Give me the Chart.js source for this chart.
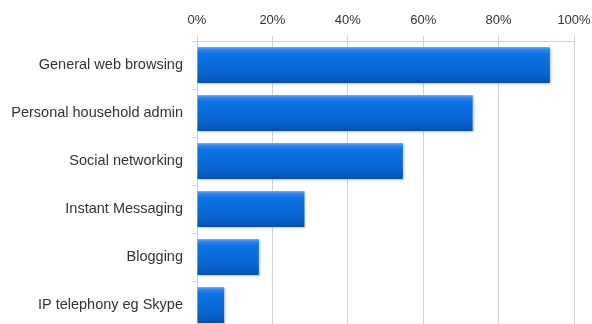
<!DOCTYPE html>
<html>
<head>
<meta charset="utf-8">
<script src="https://cdn.jsdelivr.net/npm/chart.js@4"></script>
<style>
  html, body { margin: 0; padding: 0; background: #fff; overflow: hidden; }
  canvas { display: block; }
</style>
</head>
<body>
<canvas id="grafico" width="592" height="329"></canvas>
<script>
// Actividades y porcentaje de uso
const actividades = [
  'General web browsing',
  'Personal household admin',
  'Social networking',
  'Instant Messaging',
  'Blogging',
  'IP telephony eg Skype'
];
const porcentajes = [93.6, 73.1, 54.6, 28.5, 16.4, 7.2];
const marcasEje = [0, 20, 40, 60, 80, 100];

const colorGrilla = '#d2d2d2';
const colorTexto = '#333333';

// Degradado vertical para cada barra
function degradadoBarra(context) {
  const chart = context.chart;
  const escalaY = chart.scales.y;
  if (!chart.chartArea || !escalaY) return '#0a68d8';
  const centro = escalaY.getPixelForValue(context.dataIndex);
  const banda = (escalaY.bottom - escalaY.top) / actividades.length;
  const alto = banda * 0.75;
  const g = chart.ctx.createLinearGradient(0, centro - alto / 2, 0, centro + alto / 2);
  g.addColorStop(0, '#6cb0f4');
  g.addColorStop(0.07, '#2a86ee');
  g.addColorStop(0.2, '#0c72e6');
  g.addColorStop(0.75, '#0864d0');
  g.addColorStop(1, '#044fa8');
  return g;
}

// Sombra suave debajo de las barras
const sombraBarras = {
  id: 'sombraBarras',
  beforeDatasetsDraw(chart) {
    const ctx = chart.ctx;
    ctx.save();
    ctx.shadowColor = 'rgba(0,0,0,0.25)';
    ctx.shadowBlur = 2;
    ctx.shadowOffsetX = 1;
    ctx.shadowOffsetY = 1;
  },
  afterDatasetsDraw(chart) {
    chart.ctx.restore();
  }
};

const ctx = document.getElementById('grafico').getContext('2d');
const grafico = new Chart(ctx, {
  type: 'bar',
  data: {
    labels: actividades,
    datasets: [{
      data: porcentajes,
      backgroundColor: degradadoBarra,
      borderWidth: 0,
      barPercentage: 0.75,
      categoryPercentage: 1
    }]
  },
  options: {
    indexAxis: 'y',
    responsive: false,
    animation: false,
    layout: { padding: { left: 0, right: 18, top: 0, bottom: 0 } },
    plugins: {
      legend: { display: false },
      tooltip: { enabled: false }
    },
    scales: {
      x: {
        position: 'top',
        min: 0,
        max: 100,
        afterBuildTicks: (scale) => {
          scale.ticks = marcasEje.map(v => ({ value: v }));
        },
        afterFit: (scale) => {
          scale.height = 41;
          scale.paddingLeft = 0;
          scale.paddingRight = 0;
        },
        grid: { color: colorGrilla, tickLength: 5, lineWidth: 1 },
        border: { color: colorGrilla },
        ticks: {
          callback: v => v + '%',
          color: colorTexto,
          padding: 8,
          maxRotation: 0,
          font: { family: 'Liberation Sans, Arial, sans-serif', size: 13 }
        }
      },
      y: {
        afterFit: (scale) => {
          scale.width = 197;
          scale.paddingTop = 0;
          scale.paddingBottom = 0;
        },
        grid: { drawOnChartArea: false, color: colorGrilla, tickLength: 5 },
        border: { color: colorGrilla },
        ticks: {
          color: colorTexto,
          padding: 9,
          font: { family: 'Liberation Sans, Arial, sans-serif', size: 14.5 }
        }
      }
    }
  },
  plugins: [sombraBarras]
});
</script>
</body>
</html>
